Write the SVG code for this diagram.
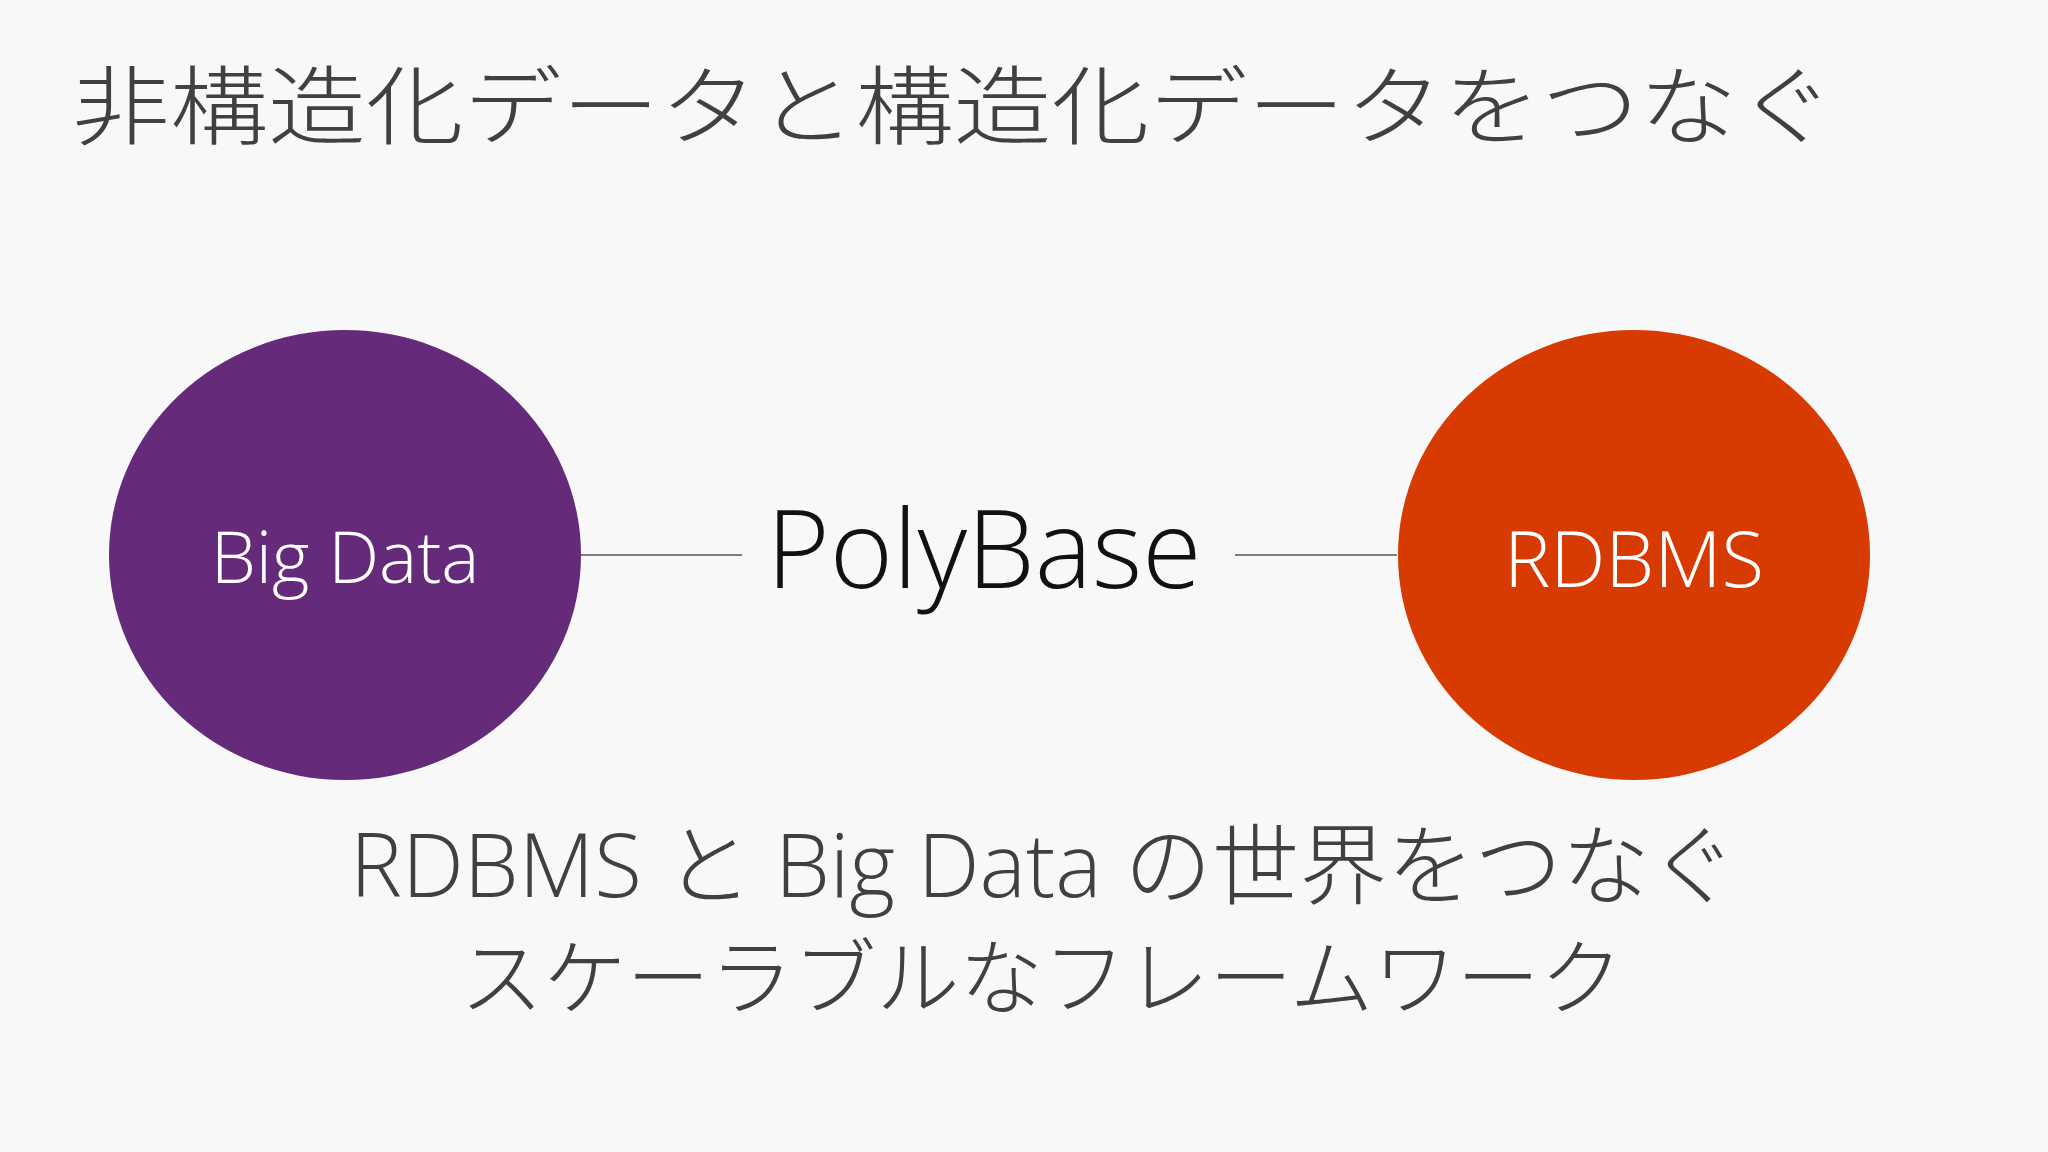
<svg xmlns="http://www.w3.org/2000/svg" width="2048" height="1152" viewBox="0 0 2048 1152">
<style>
.t{font-family:"Open Sans","Noto Sans CJK JP",sans-serif;font-weight:300;fill:#404040}
.w{font-family:"Open Sans",sans-serif;font-weight:300;fill:#ffffff}
.c{stroke:#555;stroke-width:1.5}
</style>
<rect width="2048" height="1152" fill="#f8f8f8"/>
<text class="t" x="72" y="138" font-size="86" textLength="1763" lengthAdjust="spacingAndGlyphs">非構造化データと構造化データをつなぐ</text>
<g id="connectors">
<line class="c" x1="581" y1="555" x2="742" y2="555"/>
<line class="c" x1="1235" y1="555" x2="1397" y2="555"/>
</g>
<g id="bigdata">
<ellipse cx="345" cy="555" rx="236" ry="225" fill="#662a7a"/>
<text class="w" x="345" y="583" font-size="72" text-anchor="middle">Big Data</text>
</g>
<g id="polybase">
<text class="t" x="984" y="588" font-size="108" text-anchor="middle" style="fill:#111">PolyBase</text>
</g>
<g id="rdbms">
<ellipse cx="1634" cy="555" rx="236" ry="225" fill="#d83b01"/>
<text class="w" x="1634" y="587" font-size="78" text-anchor="middle">RDBMS</text>
</g>
<text class="t" x="350" y="897" font-size="88" textLength="1387" lengthAdjust="spacingAndGlyphs">RDBMS と Big Data の世界をつなぐ</text>
<text class="t" x="460" y="1008" font-size="83" textLength="1163" lengthAdjust="spacingAndGlyphs">スケーラブルなフレームワーク</text>
</svg>
